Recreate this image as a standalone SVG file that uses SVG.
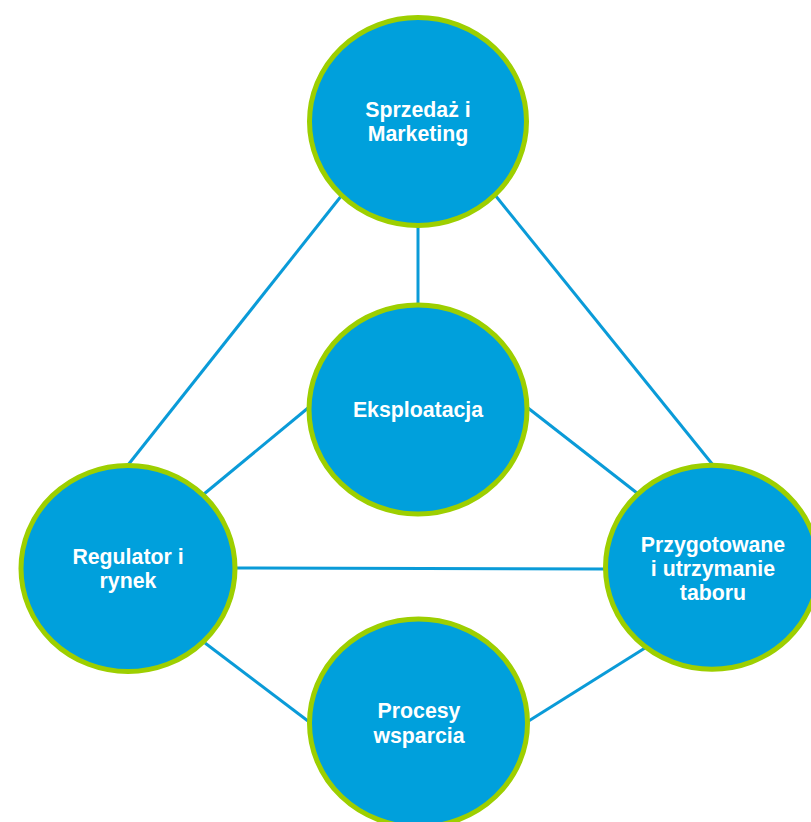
<svg xmlns="http://www.w3.org/2000/svg" width="811" height="822" viewBox="0 0 811 822">
<style>
.node{fill:#00a0dc;stroke:#9dcf00;stroke-width:5}
.conn line{stroke:#0a9bd8;stroke-width:3;stroke-linecap:butt}
text{font-family:"Liberation Sans",Arial,sans-serif;font-weight:bold;font-size:21.3px;fill:#ffffff;text-anchor:middle}
</style>
<rect width="811" height="822" fill="#ffffff"/>
<g id="connectors" class="conn">
<line x1="418" y1="226" x2="418" y2="305"/>
<line x1="342" y1="195" x2="128" y2="465"/>
<line x1="495" y1="195" x2="713" y2="465"/>
<line x1="204" y1="494" x2="308" y2="408"/>
<line x1="528" y1="408" x2="637" y2="493"/>
<line x1="236" y1="568" x2="605" y2="569"/>
<line x1="205" y1="643" x2="308" y2="721"/>
<line x1="645" y1="648" x2="527" y2="722"/>
</g>
<g id="node-sprzedaz">
<ellipse class="node" cx="418" cy="121.5" rx="108.5" ry="104"/>
<text x="418" y="117">Sprzedaż i</text>
<text x="418" y="140.5">Marketing</text>
</g>
<g id="node-eksploatacja">
<ellipse class="node" cx="418" cy="409.5" rx="109" ry="104.5"/>
<text x="418" y="416.5">Eksploatacja</text>
</g>
<g id="node-regulator">
<ellipse class="node" cx="128" cy="568.5" rx="107" ry="103"/>
<text x="128" y="564">Regulator i</text>
<text x="128" y="588">rynek</text>
</g>
<g id="node-przygotowanie">
<ellipse class="node" cx="712" cy="567.2" rx="106.5" ry="102"/>
<text x="713" y="551.5">Przygotowane</text>
<text x="713" y="576">i utrzymanie</text>
<text x="713" y="600">taboru</text>
</g>
<g id="node-procesy">
<ellipse class="node" cx="418.5" cy="723" rx="109" ry="104"/>
<text x="419" y="718">Procesy</text>
<text x="419" y="742.5">wsparcia</text>
</g>
</svg>
